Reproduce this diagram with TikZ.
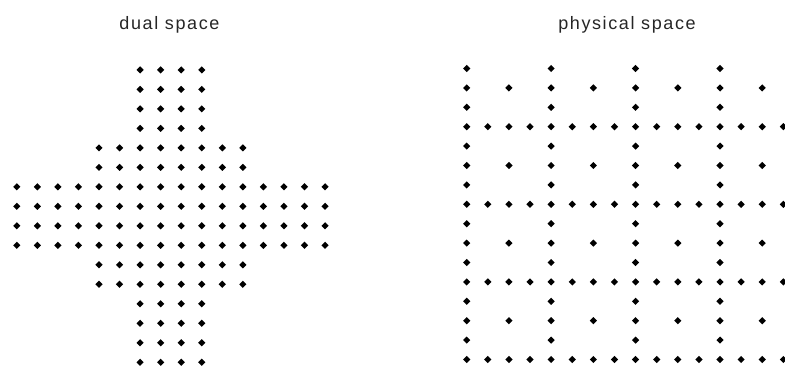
\documentclass[tikz,border=0pt]{standalone}
\usepackage{fontspec}
\setmainfont{Liberation Sans}
\begin{document}
\begin{tikzpicture}[x=1pt,y=-1pt,
  title/.style={anchor=base,inner sep=0pt,text=black!85,
    font=\fontsize{18}{21}\selectfont\addfontfeature{LetterSpace=9}},
  dot/.style={fill=black}]
\useasboundingbox (0,0) rectangle (785,372);
% titles
\node[title] (dualtitle) at (169.5,29.5) {dual space};
\node[title] (phystitle) at (627,29.5) {physical space};
% dual space: cross of 16x16 grid
\foreach \r in {0,...,15}{
  \foreach \c in {0,...,15}{
    \pgfmathtruncatemacro{\inrow}{(\r>5)*(\r<10)}
    \pgfmathtruncatemacro{\inmid}{((\r>3)*(\r<12))*((\c>3)*(\c<12))}
    \pgfmathtruncatemacro{\incol}{(\c>5)*(\c<10)}
    \pgfmathtruncatemacro{\show}{(\inrow+\inmid+\incol)>0}
    \ifnum\show=1
      \pgfmathsetmacro{\xx}{16.8+20.55*\c}
      \pgfmathsetmacro{\yy}{69.9+19.49*\r}
      \fill[dot] (\xx-3.6,\yy) -- (\xx,\yy-3.6) -- (\xx+3.6,\yy) -- (\xx,\yy+3.6) -- cycle;
    \fi
  }
}
% physical space
\foreach \r in {0,...,15}{
  \foreach \c in {0,...,15}{
    \pgfmathtruncatemacro{\rm}{mod(\r,4)}
    \pgfmathtruncatemacro{\cm}{mod(\c,4)}
    \pgfmathtruncatemacro{\show}{(\rm==3)||(\cm==0)||((\rm==1)&&(\cm==2))}
    \ifnum\show=1
      \pgfmathsetmacro{\xx}{466.7+21.11*\c}
      \pgfmathsetmacro{\yy}{68.5+19.4*\r}
      \fill[dot] (\xx-3.6,\yy) -- (\xx,\yy-3.6) -- (\xx+3.6,\yy) -- (\xx,\yy+3.6) -- cycle;
    \fi
  }
}
\end{tikzpicture}
\end{document}
